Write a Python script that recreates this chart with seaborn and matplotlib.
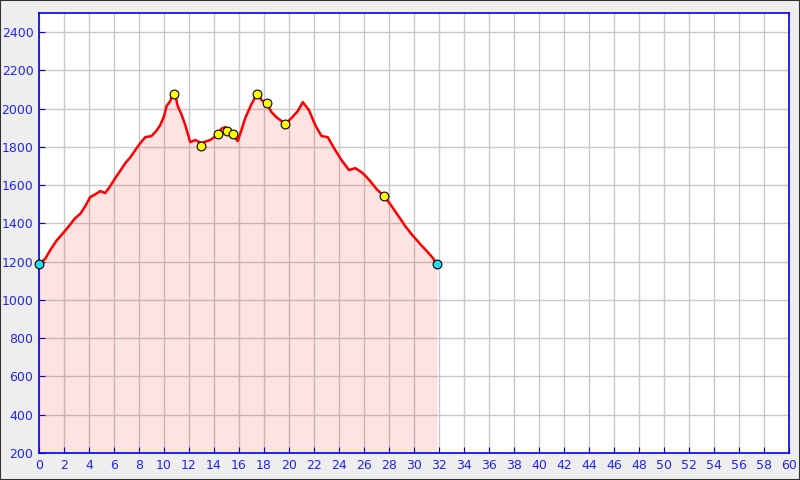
import numpy as np
import pandas as pd
import seaborn as sns
import matplotlib.pyplot as plt
from matplotlib.patches import Rectangle

# elevation profile (km, m)
dist = [0.0, 0.5, 0.9, 1.4, 2.0, 2.5, 2.9, 3.3, 3.7, 4.1, 4.5, 4.9, 5.3, 5.7, 6.1,
        6.5, 6.9, 7.3, 7.7, 8.1, 8.5, 9.0, 9.4, 9.7, 10.0, 10.2, 10.5, 10.7, 10.9,
        11.1, 11.4, 11.7, 12.1, 12.5, 13.0, 13.4, 13.7, 14.0, 14.3, 14.6, 14.9, 15.1,
        15.5, 15.9, 16.2, 16.5, 17.0, 17.3, 17.5, 17.8, 18.2, 18.6, 19.0, 19.4, 19.7,
        20.2, 20.7, 21.1, 21.6, 22.1, 22.6, 23.1, 23.7, 24.2, 24.8, 25.3, 25.8, 26.1,
        26.5, 27.0, 27.6, 28.1, 28.7, 29.3, 29.8, 30.5, 31.1, 31.5, 31.84]
elev = [1188, 1215, 1261, 1310, 1355, 1395, 1428, 1450, 1490, 1538, 1552, 1569, 1559,
        1595, 1637, 1675, 1715, 1745, 1783, 1820, 1851, 1857, 1885, 1914, 1960, 2013,
        2040, 2076, 2070, 2013, 1970, 1914, 1825, 1836, 1820, 1830, 1836, 1850, 1870,
        1895, 1904, 1890, 1867, 1830, 1890, 1951, 2024, 2060, 2076, 2045, 2029, 1982,
        1955, 1935, 1919, 1951, 1987, 2034, 1992, 1914, 1857, 1851, 1783, 1731, 1679,
        1689, 1668, 1650, 1621, 1580, 1543, 1501, 1444, 1386, 1344, 1292, 1250, 1220,
        1188]

# waypoints
wp_dist = [10.8, 12.96, 14.3, 15.0, 15.5, 17.4, 18.2, 19.7, 27.6]
wp_elev = [2076, 1804, 1867, 1883, 1867, 2076, 2029, 1919, 1543]
end_dist = [0.0, 31.84]
end_elev = [1188, 1188]

df = pd.DataFrame({'km': dist, 'm': elev})

fig = plt.figure(figsize=(8, 4.8), dpi=100, facecolor='#eeeeee')
ax = fig.add_axes([39 / 800, 27 / 480, 750 / 800, 440 / 480])
ax.set_facecolor('white')

ax.set_xlim(0, 60)
ax.set_ylim(200, 2500)
ax.set_xticks(range(0, 61, 2))
ax.set_yticks(range(200, 2401, 200))
ax.grid(True, color='#c8c8c8', linewidth=1)
ax.set_axisbelow(True)

ax.fill_between(dist, elev, 200, color='#ff0000', alpha=0.11, linewidth=0, zorder=2)
sns.lineplot(data=df, x='km', y='m', ax=ax, color='red', linewidth=1.8, zorder=3)
sns.scatterplot(x=wp_dist, y=wp_elev, ax=ax, color='#ffff00', edgecolor='black',
                s=40, linewidth=0.8, zorder=4)
sns.scatterplot(x=end_dist, y=end_elev, ax=ax, color='#22ddee', edgecolor='black',
                s=40, linewidth=0.8, zorder=4, clip_on=False)

for s in ax.spines.values():
    s.set_color('#0000ee')
    s.set_linewidth(1.2)
ax.tick_params(direction='in', length=4, color='#0000ee', labelcolor='#2222ff',
               labelsize=9, top=False, right=False, pad=4)
ax.set_xlabel('')
ax.set_ylabel('')

fig.patches.append(Rectangle((0, 0), 1, 1, transform=fig.transFigure, fill=False,
                             edgecolor='#333333', linewidth=1.5))

fig.savefig('out.png', dpi=100, facecolor=fig.get_facecolor())
